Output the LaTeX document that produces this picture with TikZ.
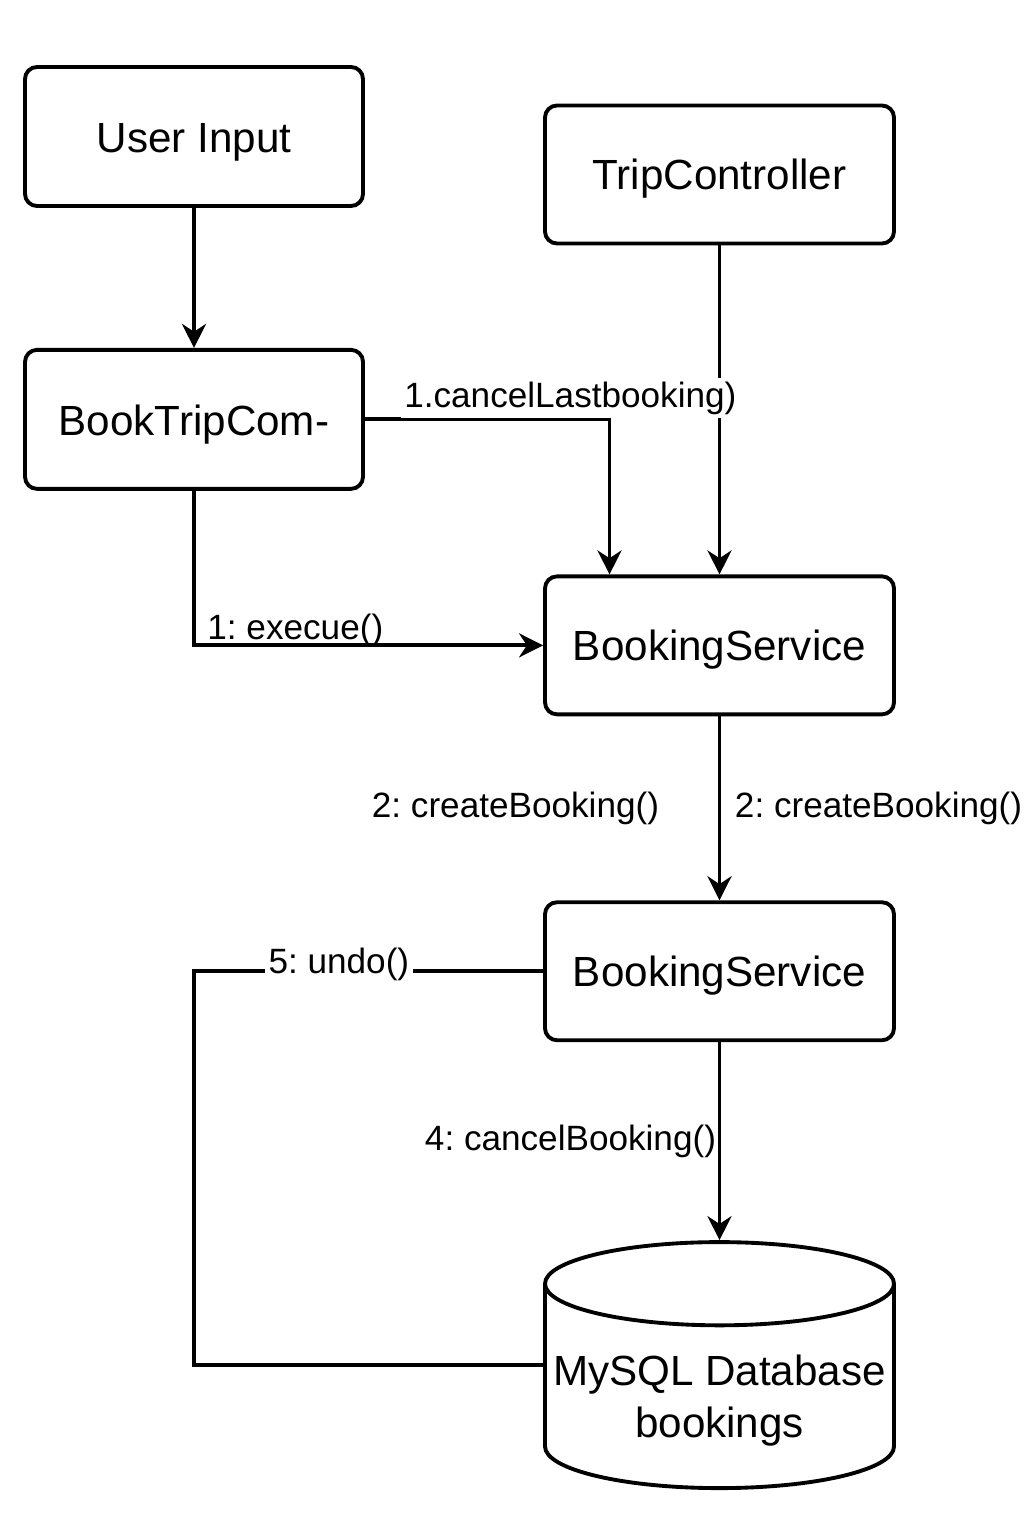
\documentclass[tikz,border=0pt]{standalone}
\usepackage{fontspec}
\setmainfont{Liberation Sans}
\usetikzlibrary{positioning,shapes.geometric,arrows.meta}
\frenchspacing

\begin{document}
\begin{tikzpicture}[
    >={Stealth[length=0.24cm, width=0.24cm]},
    font=\fontsize{12}{14.8}\selectfont,
    line width=1.1pt,
    % Node styles
    block/.style={draw, rounded corners=0.12cm, minimum width=3.38cm, minimum height=1.39cm, text height=1.15em, text depth=0.25em},
    service/.style={draw, rounded corners=0.12cm, minimum width=3.49cm, minimum height=1.38cm, text height=1.1em, text depth=0.25em},
    store/.style={draw, cylinder, shape border rotate=90, aspect=0.25, minimum width=3.49cm, minimum height=2.46cm, align=center, inner sep=0pt, text height=1.1cm},
    lbl/.style={font=\fontsize{10}{12}\selectfont, inner sep=1pt},
    arrow/.style={->},
    link/.style={-},
]
    \useasboundingbox (0,0) rectangle (10.24,-15.36);

    % Left column
    \node[block] (user) at (1.94,-1.365) {User Input};
    \node[block, below=1.40cm of user] (cmd) {BookTripCom-};

    % Right column
    \node[service] (trip) at (7.195,-1.745) {TripController};
    \node[service, below=3.29cm of trip] (svc) {BookingService};
    \node[service, below=1.84cm of svc] (svc2) {BookingService};
    \node[store, below=1.98cm of svc2] (db) {MySQL Database\\bookings};

    % Connections
    \draw[arrow] (user) -- (cmd);
    \draw[arrow] (trip) -- (svc);
    \draw[arrow] (cmd.east) -| node[lbl, fill=white, pos=0.42, anchor=base, yshift=0.12cm] (cancel) {1.cancelLastbooking)} ([xshift=-1.1cm]svc.north);
    \draw[arrow] (cmd) |- node[lbl, pos=0.5, anchor=base west, xshift=0.08cm, yshift=0.06cm] (exec) {1: execue()} (svc);
    \draw[arrow] (svc) -- node[lbl, left=0.55cm] (createl) {2: createBooking()} node[lbl, right=0.1cm] (creater) {2: createBooking()} (svc2);
    \draw[arrow] (svc2) -- node[lbl, left=-0.02cm] (cancelb) {4: cancelBooking()} (db);
    \draw[link] (svc2.west) -- ++(-3.49,0) node[lbl, fill=white, pos=0.585, anchor=base, yshift=-0.02cm] (undo) {5: undo()} |- (db.west |- db.shape center);

\end{tikzpicture}
\end{document}
